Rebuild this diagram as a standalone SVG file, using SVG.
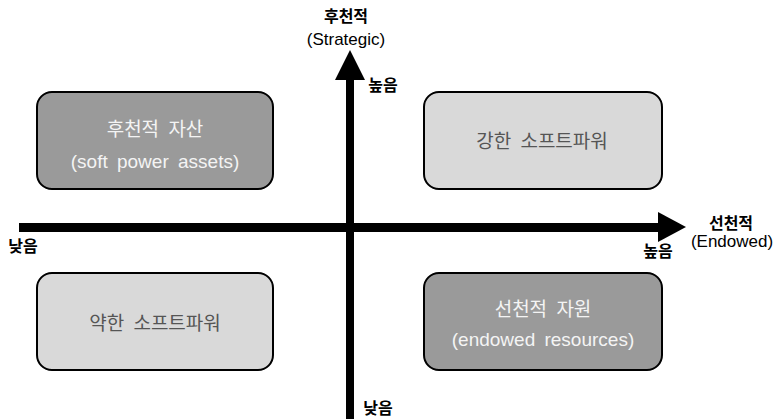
<svg xmlns="http://www.w3.org/2000/svg" width="777" height="419" viewBox="0 0 777 419">
  <style>
    text { font-family: "Liberation Sans", "Noto Sans CJK KR", sans-serif; text-anchor: middle; }
    .box { stroke: #000; stroke-width: 2; }
    .dark { fill: #9a9a9a; }
    .light { fill: #d9d9d9; }
    .dark-t { fill: #f4f4f4; font-size: 19px; word-spacing: 4px; }
    .light-t { fill: #555; font-size: 19px; word-spacing: 4px; }
    .lbl { fill: #000; font-size: 16px; font-weight: 600; }
    .sub { fill: #000; font-size: 17px; }
  </style>
  <rect width="777" height="419" fill="#fff"/>

  <g id="connectors">
    <!-- vertical axis -->
    <rect x="346" y="78" width="8" height="341" fill="#000"/>
    <polygon points="350,50 335,80 365,80" fill="#000"/>
    <!-- horizontal axis -->
    <rect x="19" y="223" width="642" height="9" fill="#000"/>
    <polygon points="686,227 658,212 658,242" fill="#000"/>
  </g>

  <g id="axis-labels">
    <text class="lbl" x="346" y="22">후천적</text>
    <text class="sub" x="346" y="45">(Strategic)</text>
    <text class="lbl" x="383" y="91">높음</text>
    <text class="lbl" x="731" y="229">선천적</text>
    <text class="sub" x="732" y="247">(Endowed)</text>
    <text class="lbl" x="658" y="257">높음</text>
    <text class="lbl" x="23" y="252">낮음</text>
    <text class="lbl" x="378" y="414">낮음</text>
  </g>

  <g id="node-soft-power-assets">
    <rect class="box dark" x="37" y="92" width="236" height="97" rx="15"/>
    <text class="dark-t" x="155" y="136">후천적 자산</text>
    <text class="dark-t" x="155" y="168">(soft power assets)</text>
  </g>

  <g id="node-strong">
    <rect class="box light" x="424" y="92" width="238" height="97" rx="15"/>
    <text class="light-t" x="542" y="148">강한 소프트파워</text>
  </g>

  <g id="node-weak">
    <rect class="box light" x="37" y="273" width="236" height="97" rx="15"/>
    <text class="light-t" x="155" y="330">약한 소프트파워</text>
  </g>

  <g id="node-endowed-resources">
    <rect class="box dark" x="424" y="273" width="238" height="97" rx="15"/>
    <text class="dark-t" x="543" y="316">선천적 자원</text>
    <text class="dark-t" x="543" y="346">(endowed resources)</text>
  </g>
</svg>
